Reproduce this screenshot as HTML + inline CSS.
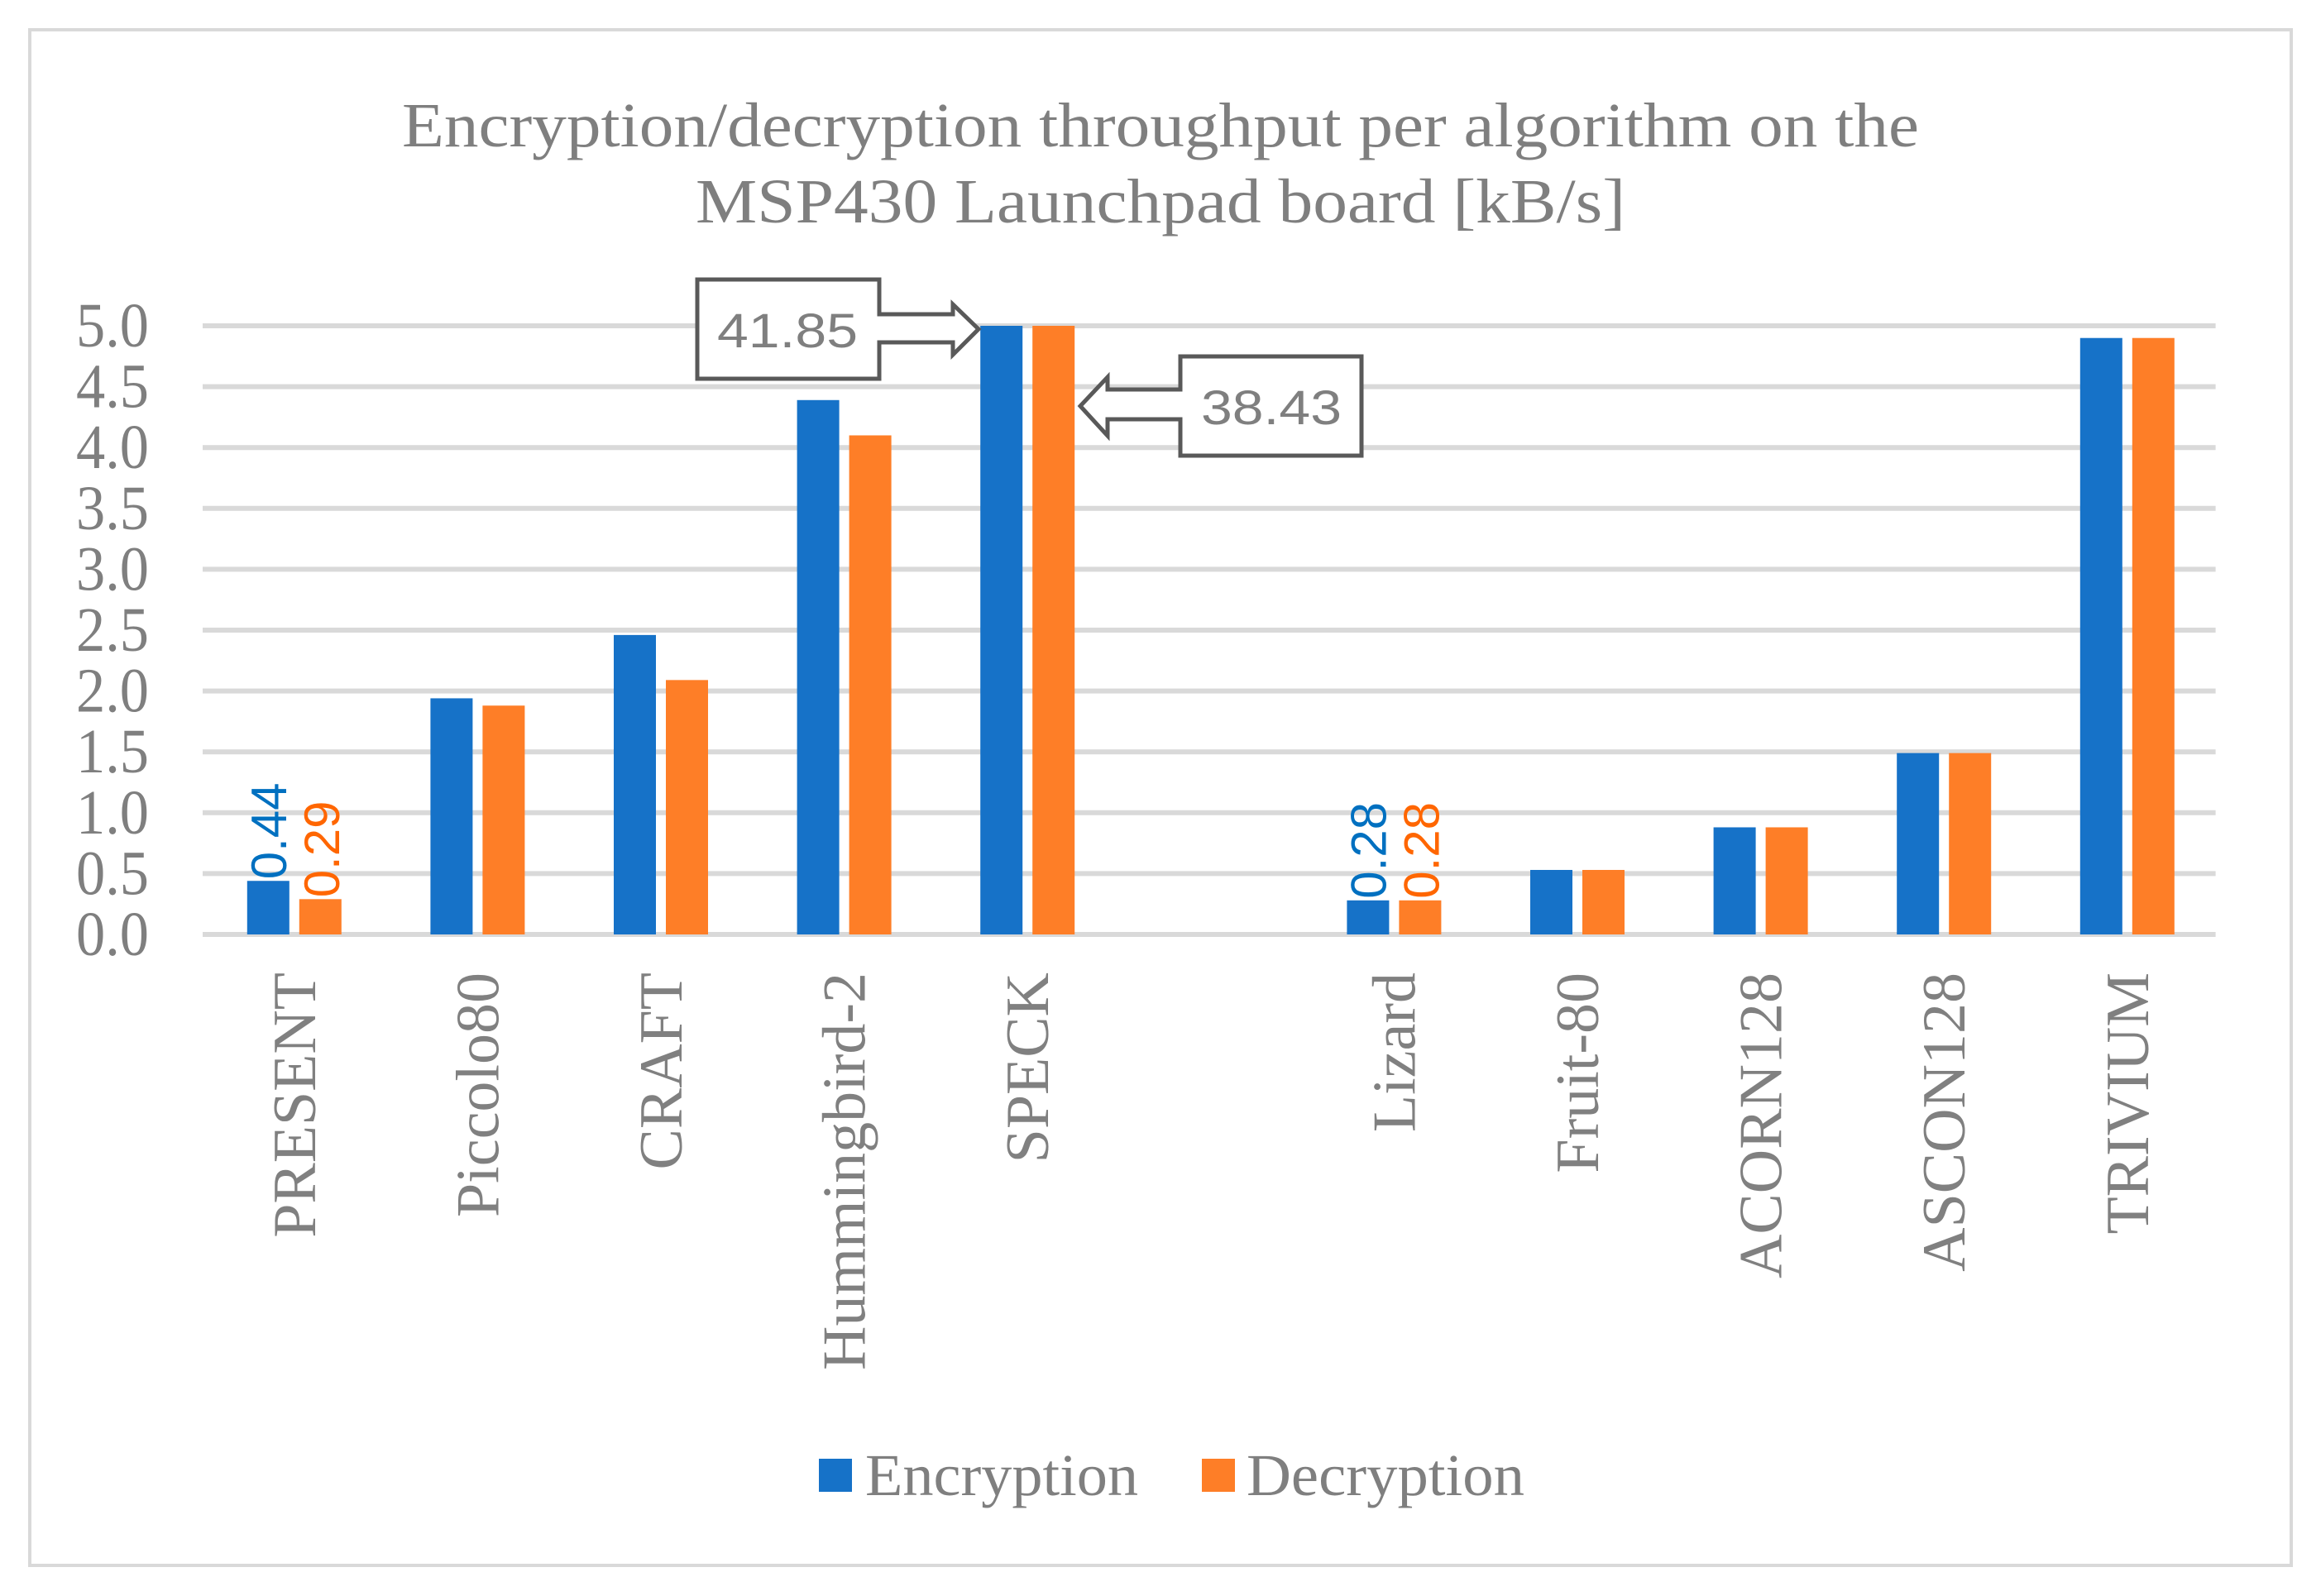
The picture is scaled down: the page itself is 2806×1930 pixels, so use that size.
<!DOCTYPE html>
<html><head><meta charset="utf-8"><style>
html,body{margin:0;padding:0;background:#fff;}
svg{display:block;}
</style></head><body>
<svg width="2806" height="1930" viewBox="0 0 2806 1930" xmlns="http://www.w3.org/2000/svg">
<rect x="36" y="36" width="2734" height="1857" fill="#fff" stroke="#d9d9d9" stroke-width="4"/>
<g font-family="Liberation Serif, serif" fill="#7f7f7f" font-size="76" text-anchor="middle">
<text x="1403" y="177" textLength="1834" lengthAdjust="spacingAndGlyphs">Encryption/decryption throughput per algorithm on the</text>
<text x="1403" y="269" textLength="1124" lengthAdjust="spacingAndGlyphs">MSP430 Launchpad board [kB/s]</text>
</g>
<g id="grid"></g>
<g id="yticks"></g>
<g id="bars"></g>
<g id="xlabels"></g>
<g id="dlabels"></g>
<g>
<path d="M843 338 H1063 V380 H1152 V368 L1183 398 L1152 429 V414 H1063 V458 H843 Z" fill="#fff" stroke="#595959" stroke-width="5"/>
<text x="952" y="420" font-family="Liberation Sans, sans-serif" font-size="58" fill="#7f7f7f" text-anchor="middle" textLength="170" lengthAdjust="spacingAndGlyphs">41.85</text>
</g>
<g>
<path d="M1646 431 H1427 V471 H1339 V456 L1306 491 L1339 527 V507 H1427 V551 H1646 Z" fill="#fff" stroke="#595959" stroke-width="5"/>
<text x="1537" y="513" font-family="Liberation Sans, sans-serif" font-size="58" fill="#7f7f7f" text-anchor="middle" textLength="170" lengthAdjust="spacingAndGlyphs">38.43</text>
</g>
<g>
<rect x="990" y="1764" width="40" height="40" fill="#1672c8"/>
<text x="1046" y="1808" font-family="Liberation Serif, serif" font-size="72" fill="#7f7f7f" textLength="330" lengthAdjust="spacingAndGlyphs">Encryption</text>
<rect x="1453" y="1764" width="40" height="40" fill="#fe7e27"/>
<text x="1507" y="1808" font-family="Liberation Serif, serif" font-size="72" fill="#7f7f7f" textLength="336" lengthAdjust="spacingAndGlyphs">Decryption</text>
</g>
</svg>
<script>
const categories = ["PRESENT","Piccolo80","CRAFT","Hummingbird-2","SPECK","","Lizard","Fruit-80","ACORN128","ASCON128","TRIVIUM"];
const encryption = [0.44,1.94,2.46,4.39,41.85,null,0.28,0.53,0.88,1.49,4.9];
const decryption = [0.29,1.88,2.09,4.10,38.43,null,0.28,0.53,0.88,1.49,4.9];
const yTicks = [0,0.5,1,1.5,2,2.5,3,3.5,4,4.5,5];
const labelIdx = [0,6];
const NS = "http://www.w3.org/2000/svg";
const X0 = 245, CW = 221.6, Y0 = 1130, YMAX = 5, YPX = 736;
function y(v){ return Y0 - Math.min(v, YMAX) / YMAX * YPX; }
function cx(i){ return X0 + CW * (i + 0.5); }
function mk(tag, attrs, parent){ const e = document.createElementNS(NS, tag); for (const k in attrs) e.setAttribute(k, attrs[k]); parent.appendChild(e); return e; }
const grid = document.getElementById('grid'), yt = document.getElementById('yticks');
yTicks.forEach(t => {
  const l = mk('line', {x1: X0, x2: X0 + CW * categories.length - 4, y1: y(t), y2: y(t), stroke: '#d9d9d9', 'stroke-width': 6}, grid);
  
  
  const tx = mk('text', {x: 180, y: y(t) + 25, 'text-anchor': 'end', 'font-family': 'Liberation Serif, serif', 'font-size': 76, fill: '#7f7f7f', textLength: 88, lengthAdjust: 'spacingAndGlyphs'}, yt);
  tx.textContent = t.toFixed(1);
  
  
});
const bars = document.getElementById('bars'), xl = document.getElementById('xlabels'), dl = document.getElementById('dlabels');
categories.forEach((c, i) => {
  if (encryption[i] !== null) {
    const b1 = mk('rect', {x: cx(i) - 57, y: y(encryption[i]), width: 51, height: Y0 - y(encryption[i]), fill: '#1672c8'}, bars);
    
    
    const b2 = mk('rect', {x: cx(i) + 6, y: y(decryption[i]), width: 51, height: Y0 - y(decryption[i]), fill: '#fe7e27'}, bars);
    
    
  }
  if (c) {
    const t = mk('text', {x: 0, y: 0, 'text-anchor': 'end', 'font-family': 'Liberation Serif, serif', 'font-size': 74, fill: '#808080', transform: `translate(${cx(i) + 25},1176) rotate(-90)`}, xl);
    t.textContent = c;
    
    
  }
});
labelIdx.forEach(i => {
  const t1 = mk('text', {x: 0, y: 0, 'font-family': 'Liberation Sans, sans-serif', 'font-size': 60, fill: '#0070c0', transform: `translate(${cx(i) - 10},${y(encryption[i]) - 2}) rotate(-90)`}, dl);
  t1.textContent = encryption[i].toFixed(2);
  
  
  const t2 = mk('text', {x: 0, y: 0, 'font-family': 'Liberation Sans, sans-serif', 'font-size': 60, fill: '#ff6600', transform: `translate(${cx(i) + 54},${y(decryption[i]) - 2}) rotate(-90)`}, dl);
  t2.textContent = decryption[i].toFixed(2);
  
  
});
</script>
</body></html>
